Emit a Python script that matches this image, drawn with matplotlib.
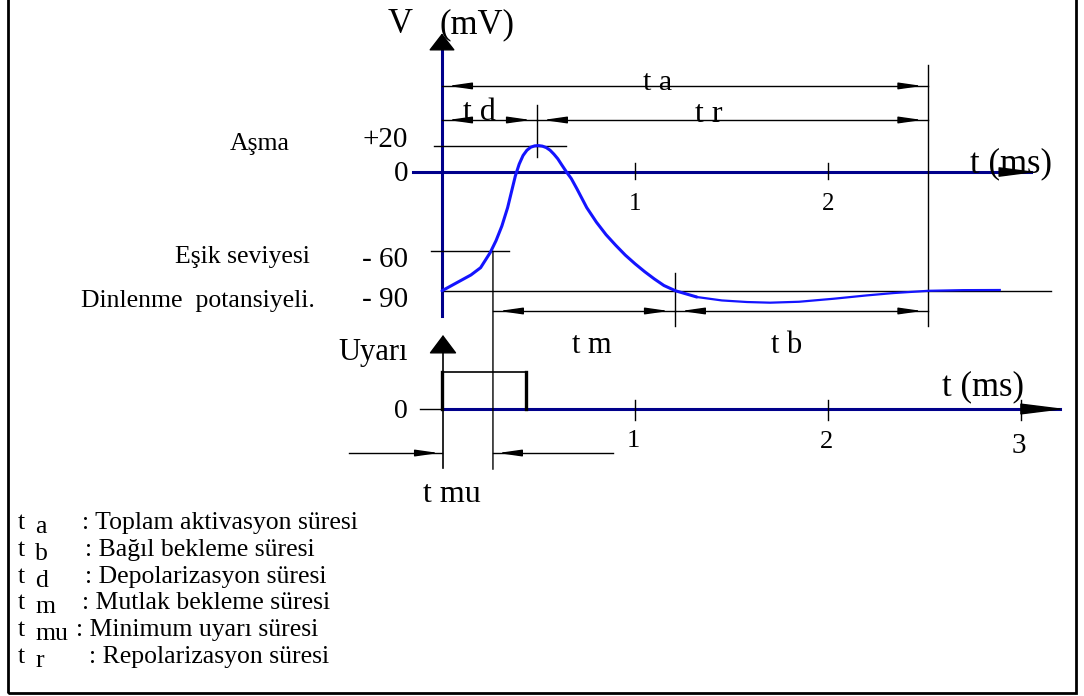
import matplotlib
matplotlib.use("Agg")
import matplotlib.pyplot as plt
from matplotlib.patches import ConnectionPatch, Rectangle

plt.rcParams["font.family"] = ["Liberation Serif", "DejaVu Serif"]

# action potential (ms, mV)
t_ap = [0.00, 0.05, 0.10, 0.15, 0.20, 0.25, 0.28, 0.31, 0.34, 0.36, 0.38, 0.40, 0.42,
        0.44, 0.46, 0.48, 0.50, 0.52, 0.54, 0.56, 0.58, 0.60, 0.62, 0.645, 0.67, 0.70,
        0.75, 0.80, 0.85, 0.90, 0.95, 1.00, 1.05, 1.10, 1.15, 1.21, 1.32, 1.45, 1.58,
        1.70, 1.85, 2.03, 2.20, 2.34, 2.52, 2.70, 2.89]
v_ap = [-90, -86, -82, -78, -72.5, -61, -52, -41, -27, -15, -3, 6, 12.5,
        16.5, 18.8, 19.8, 20, 19.6, 18.5, 16.5, 13.5, 10, 5.5, 0, -5, -13,
        -27, -38, -47.5, -55.5, -63, -69.5, -75.5, -81, -86, -90, -94.7, -97.3, -98.5,
        -99, -98.3, -96, -93.5, -91.7, -90, -89.5, -89.4]

# stimulus pulse (ms, arbitrary units)
pulse_t = [0.0, 0.0, 0.435, 0.435]
pulse_s = [0, 1, 1, 0]

# key times (ms) and levels (mV)
T_THRESH = 0.264
T_PEAK = 0.492
T_REFR = 1.207
T_END = 2.52
V_PEAK = 20
V_THRESH = -60
V_REST = -90

v_ticks = ["+20", "0", "- 60", "- 90"]
v_tick_vals = [20, 0, -60, -90]
v_side_labels = ["Aşma", "Eşik seviyesi", "Dinlenme  potansiyeli."]
v_side_vals = [20, -60, -90]
t_ticks_top = [1, 2]
t_ticks_bottom = [1, 2, 3]

legend_keys = ["a", "b", "d", "m", "mu", "r"]
legend_texts = [": Toplam aktivasyon süresi", ": Bağıl bekleme süresi",
                ": Depolarizasyon süresi", ": Mutlak bekleme süresi",
                ": Minimum uyarı süresi", ": Repolarizasyon süresi"]

# pixel layout of the drawing
W, H = 1084, 696
X0, PX_MS = 442, 193.0
V0, PX_MV = 172, 1.32
S0, PX_S = 409, 37.0
PX = 1 / PX_MS  # one pixel in ms

NAVY = "#00008b"
BLUE = "#1414ff"

fig = plt.figure(figsize=(W / 100, H / 100), dpi=100)
ax_v = fig.add_axes([0, 0, 1, 1])
ax_s = fig.add_axes([0, 0, 1, 1])
for ax in (ax_v, ax_s):
    ax.set_xlim(-X0 / PX_MS, (W - X0) / PX_MS)
    ax.axis("off")
ax_s.patch.set_alpha(0)
ax_v.set_ylim(-(H - V0) / PX_MV, V0 / PX_MV)
ax_s.set_ylim(-(H - S0) / PX_S, S0 / PX_S)


def head(ax, x, y, direction, length=1.4, width=0.2, color="black"):
    # small arrow head whose tip sits at (x, y); direction -1 points left, +1 right, 2 up
    if direction == 2:
        off = (0, -length * 10)
    else:
        off = (-direction * length * 10, 0)
    ax.annotate("", xy=(x, y), xytext=off, textcoords="offset points",
                arrowprops=dict(arrowstyle=f"-|>,head_length={length},head_width={width}",
                                mutation_scale=10, color=color, lw=1,
                                shrinkA=0, shrinkB=0))


def dim_line(ax, t1, t2, y):
    ax.plot([t1, t2], [y, y], color="black", lw=1)
    head(ax, t1 + 6 * PX, y, -1)
    head(ax, t2 - 6 * PX, y, 1)


# ---------- upper: membrane potential ----------
ax_v.plot([-29 * PX, 3.05], [0, 0], color=NAVY, lw=2.2)
head(ax_v, 3.08, 0, 1, length=2.3, width=0.3)
ax_v.plot([0, 0], [-109, 94], color=NAVY, lw=2.2)
head(ax_v, 0, 105, 2, length=1.1, width=0.85)
for tk in t_ticks_top:
    ax_v.plot([tk, tk], [7, -5], color="black", lw=1)
    ax_v.text(tk, -29, str(tk), ha="center", va="baseline", fontsize=18)

ax_v.plot([0, 3.155], [V_REST, V_REST], color="black", lw=1)
ax_v.plot([-0.04, 0.64], [V_PEAK, V_PEAK], color="black", lw=1)
ax_v.plot([T_PEAK, T_PEAK], [51, 11], color="black", lw=1)
ax_v.plot([-0.057, 0.347], [V_THRESH, V_THRESH], color="black", lw=1)
ax_v.plot([T_END, T_END], [81, -117], color="black", lw=1)
ax_v.plot([T_REFR, T_REFR], [-76.5, -117], color="black", lw=1)

dim_line(ax_v, 0, T_END, 65.2)
dim_line(ax_v, 0, T_PEAK, 39.4)
dim_line(ax_v, T_PEAK, T_END, 39.4)
dim_line(ax_v, T_THRESH, T_REFR, -105.3)
dim_line(ax_v, T_REFR, T_END, -105.3)

split = t_ap.index(1.32)
ax_v.plot(t_ap[:split + 1], v_ap[:split + 1], color=BLUE, lw=2.2,
          solid_joinstyle="round", solid_capstyle="round")
ax_v.plot(t_ap[split:], v_ap[split:], color=BLUE, lw=1.6, solid_joinstyle="round")

ax_v.text(-54 * PX, 105.3, "V", fontsize=25, ha="left", va="baseline")
ax_v.text(-2 * PX, 105.3, "(mV)", fontsize=25, ha="left", va="baseline")
ax_v.text(1.041, 62.1, "t a", fontsize=21.5, ha="left", va="baseline")
ax_v.text(0.109, 39.4, "t d", fontsize=23, ha="left", va="baseline")
ax_v.text(1.311, 37.9, "t r", fontsize=23, ha="left", va="baseline")
ax_v.text(2.736, 0, "t (ms)", fontsize=25, ha="left", va="baseline")
ax_v.text(0.674, -137, "t m", fontsize=22, ha="left", va="baseline")
ax_v.text(1.705, -137, "t b", fontsize=22, ha="left", va="baseline")

tick_base = {20: 18.9, 0: -6.8, -60: -72, -90: -102}
for lab, val in zip(v_ticks, v_tick_vals):
    ax_v.text(-34 * PX, tick_base[val], lab, fontsize=21, ha="right", va="baseline")
side_x = {20: -152 * PX, -60: -132 * PX, -90: -127 * PX}
side_base = {20: 16.7, -60: -68.9, -90: -102}
for lab, val in zip(v_side_labels, v_side_vals):
    ax_v.text(side_x[val], side_base[val], lab, fontsize=18.5, ha="right", va="baseline")

# ---------- lower: stimulus ----------
ax_s.plot([-22 * PX, 0], [0, 0], color="black", lw=1)
ax_s.plot([0, 3.2], [0, 0], color=NAVY, lw=2.2)
head(ax_s, 3.23, 0, 1, length=2.8, width=0.35)
ax_s.plot([1 * PX, 1 * PX], [-1.6, 1.55], color="black", lw=1.2)
head(ax_s, 1 * PX, 2.0, 2, length=1.2, width=0.9)
ax_s.plot(pulse_t[:2], pulse_s[:2], color="black", lw=2.4)
ax_s.plot(pulse_t[1:3], pulse_s[1:3], color="black", lw=1.2)
ax_s.plot(pulse_t[2:], pulse_s[2:], color="black", lw=2.4)
for tk in t_ticks_bottom:
    ax_s.plot([tk, tk], [0.24, -0.3], color="black", lw=1)
lab_base = {1: -1.03, 2: -1.05, 3: -1.19}
for tk in t_ticks_bottom:
    ax_s.text(tk - 0.01, lab_base[tk], str(tk), ha="center", va="baseline",
              fontsize=19 if tk < 3 else 21)

ax_s.text(-0.539, 1.32, "Uyarı", fontsize=22, ha="left", va="baseline")
ax_s.text(2.59, 0.378, "t (ms)", fontsize=25, ha="left", va="baseline")
ax_s.text(-34 * PX, -0.243, "0", fontsize=20, ha="right", va="baseline")

# t mu markers
ax_s.plot([-0.48, 0], [-1.19, -1.19], color="black", lw=1)
head(ax_s, -3 * PX, -1.19, 1)
ax_s.plot([T_THRESH, 0.886], [-1.19, -1.19], color="black", lw=1)
head(ax_s, T_THRESH + 5 * PX, -1.19, -1)
ax_s.text(-0.098, -2.51, "t mu", fontsize=23, ha="left", va="baseline")

# threshold line runs through both panels
fig.add_artist(ConnectionPatch(xyA=(T_THRESH, V_THRESH), coordsA=ax_v.transData,
                               xyB=(T_THRESH, -1.63), coordsB=ax_s.transData,
                               color="black", lw=1))

# ---------- legend ----------
leg_base = [529, 556, 583, 609, 636, 663]
leg_colon = [82, 85, 85, 82, 76, 89]
for key, txt, yb, xc in zip(legend_keys, legend_texts, leg_base, leg_colon):
    fig.text(18 / W, 1 - yb / H, "t", fontsize=18.5, ha="left", va="baseline")
    fig.text(35 / W, 1 - (yb + 4) / H, key, fontsize=18.5, ha="left", va="baseline")
    fig.text(xc / W, 1 - yb / H, txt, fontsize=18.5, ha="left", va="baseline")

# frame
fig.add_artist(Rectangle((8 / W, 1 - 693 / H), (1076 - 8) / W, 693 / H + 0.05,
                         transform=fig.transFigure, fill=False, edgecolor="black",
                         lw=2, clip_on=False))

fig.savefig("out.png", dpi=100)
